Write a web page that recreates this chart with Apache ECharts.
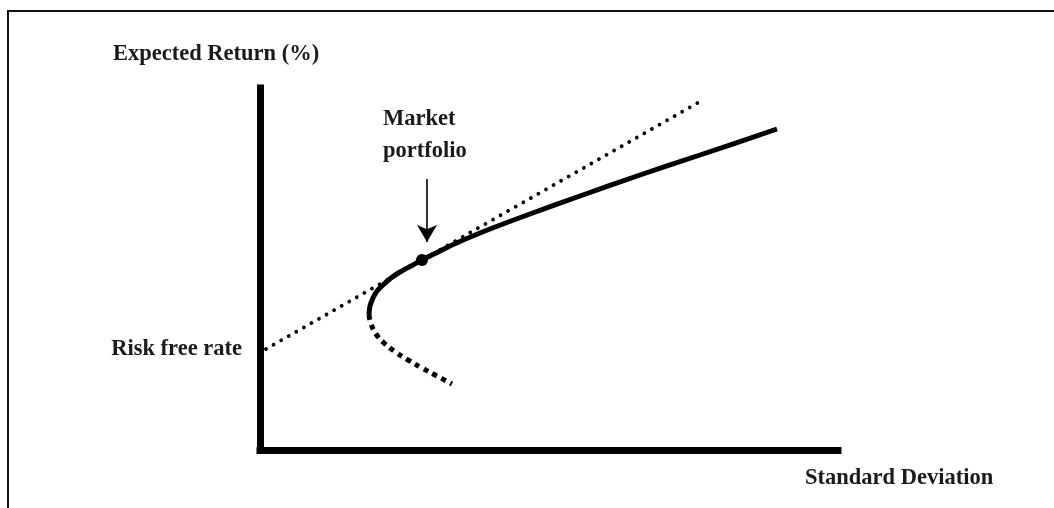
<!DOCTYPE html>
<html>
<head>
<meta charset="utf-8">
<script src="https://cdn.jsdelivr.net/npm/echarts@6/dist/echarts.min.js"></script>
<style>
html,body{margin:0;padding:0;background:#fff;}
#chart{width:1054px;height:508px;}
</style>
</head>
<body>
<div id="chart"></div>
<script>
// Axis ranges (arbitrary units of standard deviation / expected return)
var xRange = [0, 578];
var yRange = [0, 362];

// Capital market line (dotted), from risk free rate upward
var cmlX = [6, 441];
var cmlY = [101, 349];

// Efficient frontier (solid upper part)
var frontierX = [109, 110, 113, 117, 123, 131, 140, 151, 162, 175, 188, 201, 230, 270, 320, 380, 440, 517];
var frontierY = [135, 144, 152, 159, 165, 172, 178, 184, 190, 196.5, 203, 209, 221, 236, 254, 275, 295, 321];

// Inefficient lower part of the frontier (dashed)
var lowerX = [109, 111, 116, 124, 134, 148, 162, 177, 192];
var lowerY = [135, 126, 116, 107, 99, 90, 82, 74, 66];

// Market portfolio (tangency point)
var marketX = [162];
var marketY = [190];

// Arrow pointing at the market portfolio
var arrowX = [167, 167];
var arrowY = [271, 208];

// Text labels
var yAxisTitle = 'Expected Return (%)';
var xAxisTitle = 'Standard Deviation';
var rfLabel = 'Risk free rate';
var marketLabel = ['Market', 'portfolio'];

function zip(xs, ys) { return xs.map(function (x, i) { return [x, ys[i]]; }); }

var chart = echarts.init(document.getElementById('chart'), null, {renderer: 'canvas'});
var font = '"Liberation Serif", "Times New Roman", serif';
var txtColor = '#1a1a1a';

var axisLine = {show: true, lineStyle: {color: '#000', width: 7, cap: 'square'}};

chart.setOption({
  animation: false,
  backgroundColor: '#fff',
  grid: {left: 260, top: 88, width: 578, height: 362},
  xAxis: {
    type: 'value', min: xRange[0], max: xRange[1],
    axisLine: axisLine, axisTick: {show: false}, axisLabel: {show: false}, splitLine: {show: false}
  },
  yAxis: {
    type: 'value', min: yRange[0], max: yRange[1],
    axisLine: axisLine, axisTick: {show: false}, axisLabel: {show: false}, splitLine: {show: false}
  },
  graphic: [
    {type: 'rect', shape: {x: 8, y: 11, width: 1100, height: 600},
     style: {fill: null, stroke: '#111', lineWidth: 2}, silent: true, z: 0},
    {type: 'text', x: 113, y: 53.8,
     style: {text: yAxisTitle, font: 'bold 22.5px ' + font, fill: txtColor, align: 'left', verticalAlign: 'middle'}},
    {type: 'text', x: 242, y: 349.3,
     style: {text: rfLabel, font: 'bold 22.5px ' + font, fill: txtColor, align: 'right', verticalAlign: 'middle'}},
    {type: 'text', x: 805, y: 478.6,
     style: {text: xAxisTitle, font: 'bold 22.5px ' + font, fill: txtColor, align: 'left', verticalAlign: 'middle'}},
    {type: 'text', x: 383, y: 119.3,
     style: {text: marketLabel[0], font: 'bold 22.5px ' + font, fill: txtColor, align: 'left', verticalAlign: 'middle'}},
    {type: 'text', x: 383, y: 151,
     style: {text: marketLabel[1], font: 'bold 22.5px ' + font, fill: txtColor, align: 'left', verticalAlign: 'middle'}}
  ],
  series: [
    {
      type: 'line', data: zip(cmlX, cmlY), symbol: 'none', silent: true, z: 2,
      lineStyle: {color: '#000', width: 3.8, type: [0.01, 8.7], cap: 'round'}
    },
    {
      type: 'line', data: zip(frontierX, frontierY), symbol: 'none', smooth: 0.3, silent: true, z: 3,
      lineStyle: {color: '#000', width: 5}
    },
    {
      type: 'line', data: zip(lowerX, lowerY), symbol: 'none', smooth: 0.4, silent: true, z: 3,
      lineStyle: {color: '#000', width: 5, type: [5, 5], cap: 'butt'}
    },
    {
      type: 'scatter', data: zip(marketX, marketY), symbol: 'circle', symbolSize: 12, silent: true, z: 4,
      itemStyle: {color: '#000', opacity: 1},
      markLine: {
        silent: true, symbol: ['none', 'arrow'], symbolSize: [15, 17],
        label: {show: false},
        lineStyle: {color: '#000', width: 1.6, type: 'solid', opacity: 1},
        data: [[{coord: [arrowX[0], arrowY[0]]}, {coord: [arrowX[1], arrowY[1]]}]]
      }
    }
  ]
});
</script>
</body>
</html>
